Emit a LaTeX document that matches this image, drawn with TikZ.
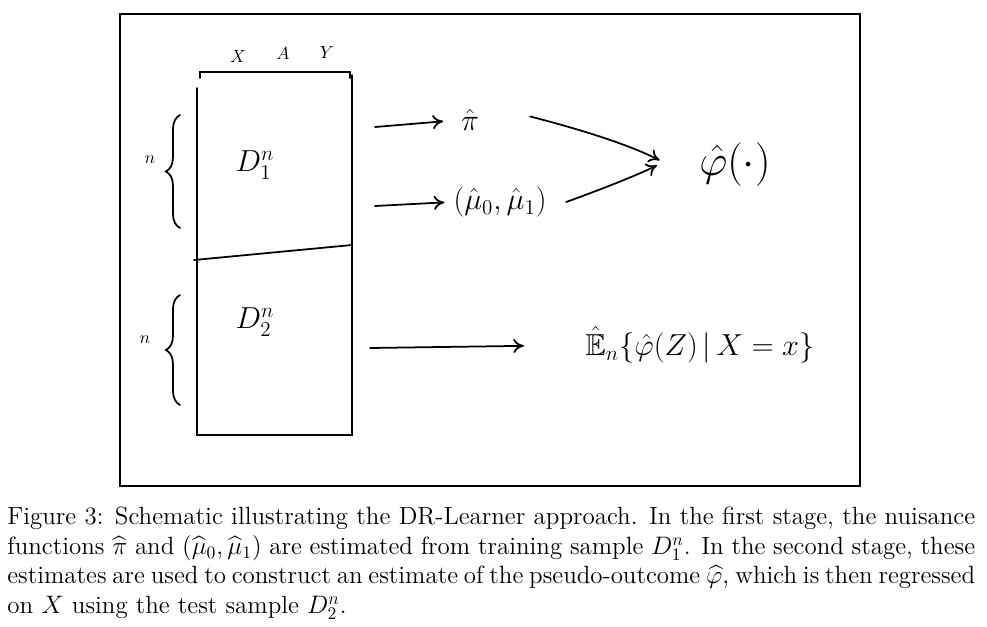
\documentclass[tikz,border=0pt]{standalone}
\usepackage{amsmath,amssymb}
\usetikzlibrary{arrows.meta,positioning,decorations.pathreplacing}
\tikzset{
    % hand-drawn looking stroke
    inkline/.style={line width=1pt, line cap=round},
    inkarrow/.style={inkline, -{To[length=6pt,width=8pt]}},
    mathlabel/.style={font=\LARGE, inner sep=1pt},
    inkbrace/.style={inkline, decorate, decoration={brace, amplitude=8pt}}
}
\begin{document}
\begin{tikzpicture}[x=0.02cm, y=-0.02cm]
    \useasboundingbox (0,0) rectangle (987,626);

    % outer frame
    \draw[line width=0.8pt] (120,14) rectangle (860,486);

    % data table
    \coordinate (tl) at (197,88);
    \coordinate (tr) at (352,75);
    \coordinate (bl) at (197,435);
    \coordinate (br) at (352,435);
    \draw[inkline] (tl) -- (bl) -- (br) -- (tr);
    \draw[inkline] (194,260) -- (352,245);

    % column header
    \node (colx) at (238,56) {$X$};
    \node (cola) at (283,53) {$A$};
    \node (coly) at (327,52) {$Y$};
    \draw[inkline] (200,78) -- (200,72) -- (350,72) -- (350,78);

    % sample braces
    \draw[inkbrace] (180,228) -- (180,115);
    \draw[inkbrace] (180,405) -- (180,295);
    \node (n1) at (150,160) {$n$};
    \node (n2) at (145,340) {$n$};
    \node[mathlabel] (d1) at (255,165) {$D_1^n$};
    \node[mathlabel] (d2) at (255,322) {$D_2^n$};

    % nuisance estimates
    \coordinate (a1) at (375,127);
    \coordinate (a2) at (375,206);
    \node[mathlabel] (pihat) at (470,120) {$\hat{\pi}$};
    \node[mathlabel] (muhat) at (500,202) {$(\hat{\mu}_0,\hat{\mu}_1)$};
    \draw[inkarrow, shorten >=9] (a1) -- (pihat.west);
    \draw[inkarrow, shorten >=4] (a2) -- (muhat.west);

    % pseudo-outcome
    \node[mathlabel, font=\Huge] (phihat) at (735,165) {$\hat{\varphi}(\cdot)$};
    \draw[inkarrow, shorten >=24] ([xshift=28,yshift=2]pihat.east) to[bend left=6] ([yshift=-8]phihat.west);
    \draw[inkarrow, shorten >=26] ([xshift=10]muhat.east) to[bend right=4] ([yshift=12]phihat.west);

    % second stage regression
    \coordinate (a3) at (370,348);
    \node[mathlabel] (regr) at (700,345) {$\hat{\mathbb{E}}_n\{\hat{\varphi}(Z)\,|\,X=x\}$};
    \draw[inkarrow, shorten >=34] (a3) -- (regr.west);

    % caption
    \node[anchor=north west, text width=19.36cm, align=justify, inner sep=0pt,
          font=\fontsize{14.2}{16.8}\selectfont] (caption) at (7,507)
    {Figure 3: Schematic illustrating the DR-Learner approach. In the first stage, the nuisance\linebreak
     functions $\widehat{\pi}$ and $(\widehat{\mu}_0,\widehat{\mu}_1)$ are estimated from training sample $D_1^n$. In the second stage, these\linebreak
     estimates are used to construct an estimate of the pseudo-outcome $\widehat{\varphi}$, which is then regressed\linebreak
     on $X$ using the test sample $D_2^n$.};
\end{tikzpicture}
\end{document}
